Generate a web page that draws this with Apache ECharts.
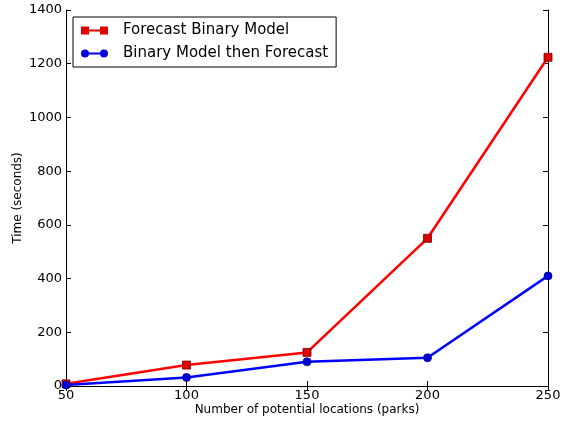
<!DOCTYPE html>
<html><head><meta charset="utf-8">
<script src="https://cdn.jsdelivr.net/npm/echarts@6/dist/echarts.min.js"></script>
<style>html,body{margin:0;padding:0;background:#fff}#c{width:572px;height:421px}</style>
</head><body><div id="c"></div>
<script>
const locations = [50, 100, 150, 200, 250];
const forecastBinary = [8, 78, 125, 550, 1224];
const binaryThenForecast = [4, 32, 90, 105, 410];
const seriesNames = ['Forecast Binary Model', 'Binary Model then Forecast'];

const chart = echarts.init(document.getElementById('c'));
const font = 'DejaVu Sans';
const axisCommon = {
  type: 'value',
  axisLine: {show: true, lineStyle: {color: '#000', width: 1}},
  axisTick: {show: true, inside: true, length: 5, lineStyle: {color: '#000'}},
  splitLine: {show: false}
};
const lbl = {fontFamily: font, fontSize: 13, color: '#000', margin: 4, formatter: v => String(v)};
const squareIcon = 'path://M0,1 L8,1 L8,9 L0,9 Z M19,1 L27,1 L27,9 L19,9 Z M8,4 L19,4 L19,6 L8,6 Z';
const circleIcon = 'path://M0,5 A4,4 0 1,0 8,5 A4,4 0 1,0 0,5 Z M19,5 A4,4 0 1,0 27,5 A4,4 0 1,0 19,5 Z M8,4 L19,4 L19,6 L8,6 Z';
chart.setOption({
  animation: false,
  grid: {left: 66, right: 24, top: 10, bottom: 35, outerBoundsMode: 'none', containLabel: false},
  legend: {
    orient: 'vertical', left: 73, top: 17,
    data: [
      {name: seriesNames[0], icon: squareIcon, itemStyle: {color: '#e00000', borderWidth: 0}},
      {name: seriesNames[1], icon: circleIcon, itemStyle: {color: '#0000e0', borderWidth: 0}}
    ],
    borderColor: '#000', borderWidth: 1, padding: [6, 8, 6, 8],
    itemWidth: 27, itemHeight: 10, itemGap: 8,
    textStyle: {fontFamily: font, fontSize: 15, color: '#000', padding: [0, 0, 0, 10]}
  },
  xAxis: [
    Object.assign({}, axisCommon, {min: 50, max: 250, interval: 50, position: 'bottom',
      name: 'Number of potential locations (parks)', nameLocation: 'middle', nameGap: 18,
      nameMoveOverlap: false,
      nameTextStyle: {fontFamily: font, fontSize: 12, color: '#000'},
      axisLabel: Object.assign({}, lbl, {margin: 3})}),
    Object.assign({}, axisCommon, {min: 50, max: 250, interval: 50, position: 'top',
      axisLabel: {show: false}})
  ],
  yAxis: [
    Object.assign({}, axisCommon, {min: 0, max: 1400, interval: 200, position: 'left',
      name: 'Time (seconds)', nameLocation: 'middle', nameGap: 42,
      nameMoveOverlap: false,
      nameTextStyle: {fontFamily: font, fontSize: 12, color: '#000'},
      axisLabel: lbl}),
    Object.assign({}, axisCommon, {min: 0, max: 1400, interval: 200, position: 'right',
      axisLabel: {show: false}})
  ],
  series: [
    {name: seriesNames[0], type: 'line', data: locations.map((x, i) => [x, forecastBinary[i]]),
     symbol: 'rect', symbolSize: 8, color: '#ee0000',
     lineStyle: {color: '#ff0000', width: 2.5},
     itemStyle: {color: '#dd0000', borderColor: '#800000', borderWidth: 0.8}},
    {name: seriesNames[1], type: 'line', data: locations.map((x, i) => [x, binaryThenForecast[i]]),
     symbol: 'circle', symbolSize: 8, color: '#0000ee',
     lineStyle: {color: '#0000ff', width: 2.5},
     itemStyle: {color: '#0000dd', borderColor: '#000080', borderWidth: 0.8}}
  ]
});
</script></body></html>
